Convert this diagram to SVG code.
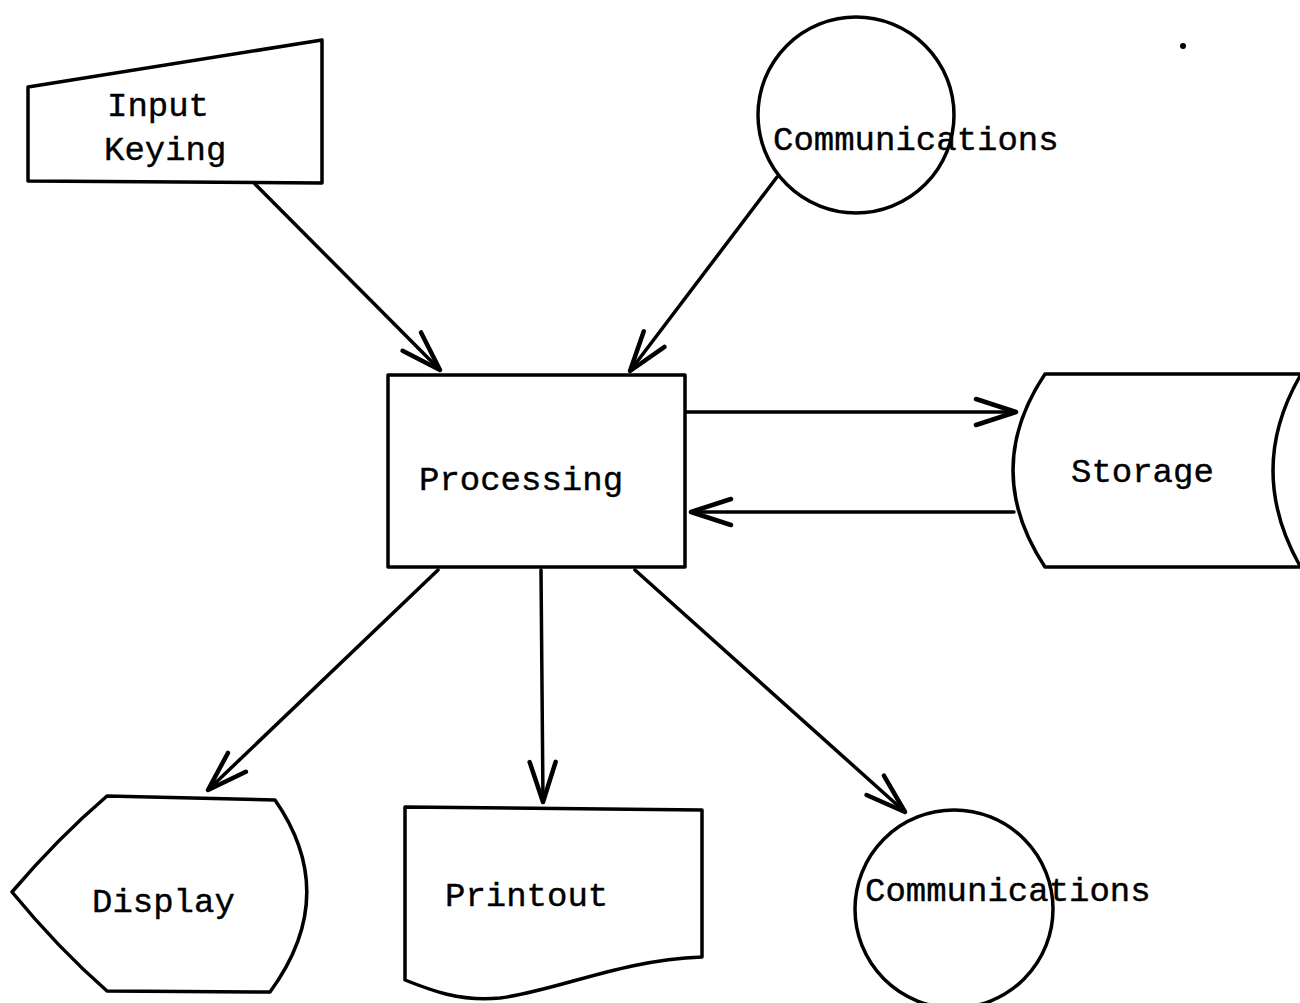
<svg xmlns="http://www.w3.org/2000/svg" width="1300" height="1003" viewBox="0 0 1300 1003">
  <style>
    .shape { fill: #ffffff; stroke: #000000; stroke-width: 3.5; stroke-linejoin: round; }
    .edge { fill: none; stroke: #000000; stroke-width: 3.5; stroke-linecap: round; }
    .label { font-family: "Liberation Mono", "Courier New", monospace; font-size: 34px; fill: #000000; stroke: #000000; stroke-width: 0.4; }
  </style>
  <defs>
    <!-- open V arrowhead, fixed size in user units -->
    <marker id="vee" markerUnits="userSpaceOnUse" markerWidth="50" markerHeight="40" viewBox="-44 -20 50 40" refX="0" refY="0" orient="auto">
      <path d="M -40 -13 L 0 0 L -40 13" fill="none" stroke="#000000" stroke-width="4.5" stroke-linecap="round" stroke-linejoin="round"/>
    </marker>
  </defs>

  <rect x="0" y="0" width="1300" height="1003" fill="#ffffff"/>

  <!-- connectors -->
  <g id="connectors">
    <line class="edge" x1="255" y1="184" x2="440" y2="370" marker-end="url(#vee)"/>
    <line class="edge" x1="777" y1="177" x2="630" y2="371" marker-end="url(#vee)"/>
    <line class="edge" x1="686" y1="412" x2="1016" y2="412" marker-end="url(#vee)"/>
    <line class="edge" x1="1014" y1="512" x2="691" y2="512" marker-end="url(#vee)"/>
    <line class="edge" x1="438" y1="570" x2="208" y2="790" marker-end="url(#vee)"/>
    <line class="edge" x1="541" y1="570" x2="543" y2="802" marker-end="url(#vee)"/>
    <line class="edge" x1="635" y1="570" x2="905" y2="812" marker-end="url(#vee)"/>
  </g>

  <!-- manual input -->
  <g id="input-keying">
    <path class="shape" d="M 28 87 L 322 40 L 322 183 L 28 181 Z"/>
    <text class="label" x="107" y="116">Input</text>
    <text class="label" x="104" y="160">Keying</text>
  </g>

  <!-- incoming communications -->
  <g id="communications-in">
    <circle class="shape" cx="856" cy="115" r="98"/>
    <text class="label" x="773" y="150">Communications</text>
  </g>

  <!-- central process -->
  <g id="processing">
    <rect class="shape" x="388" y="375" width="297" height="192"/>
    <text class="label" x="419" y="490">Processing</text>
  </g>

  <!-- direct access storage -->
  <g id="storage">
    <path class="shape" d="M 1045 374 L 1302 374 L 1302 567 L 1045 567 Q 981 470 1045 374 Z"/>
    <path class="edge" d="M 1300 376 Q 1246 470 1300 566"/>
    <text class="label" x="1071" y="482">Storage</text>
  </g>

  <!-- display -->
  <g id="display">
    <path class="shape" d="M 107 796 L 275 800 Q 341 895 270 992 L 107 991 Q 58 948 12 892 Q 58 838 107 796 Z"/>
    <text class="label" x="92" y="912">Display</text>
  </g>

  <!-- printed document -->
  <g id="printout">
    <path class="shape" d="M 405 807 L 702 810 L 702 957 C 620 960 560 990 500 998 C 460 1002 430 990 405 980 Z"/>
    <text class="label" x="445" y="906">Printout</text>
  </g>

  <!-- outgoing communications -->
  <g id="communications-out">
    <circle class="shape" cx="954" cy="909" r="99"/>
    <text class="label" x="865" y="901">Communications</text>
  </g>

  <circle cx="1183" cy="46" r="3" fill="#000000"/>
</svg>
